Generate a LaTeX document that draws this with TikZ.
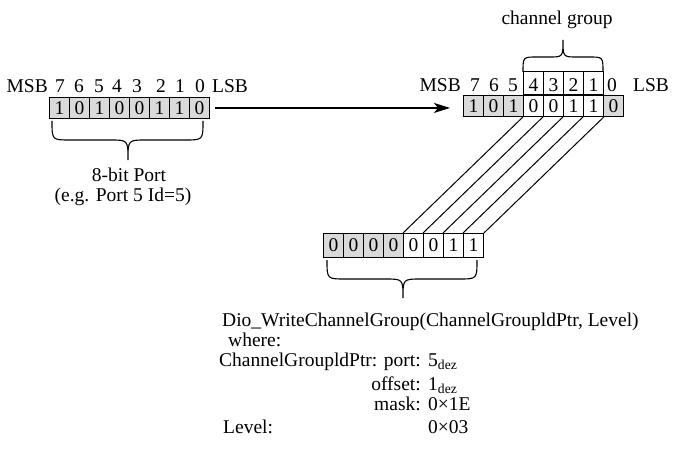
\documentclass[tikz,border=0pt]{standalone}
\usepackage{fontspec}
\setmainfont{Liberation Serif}
\usetikzlibrary{arrows.meta}
\definecolor{cellgray}{RGB}{218,218,218}
% brace: x1, x2, xm, y0, h1, h2, r
\newcommand{\mybrace}[7]{%
  \draw[bracestyle] ({#1},{#4}) .. controls ({#1},{#4+(#5)}) .. ({#1+#7},{#4+(#5)})
    -- ({#3-#7},{#4+(#5)}) .. controls ({#3},{#4+(#5)}) .. ({#3},{#4+(#5)+(#6)})
    .. controls ({#3},{#4+(#5)}) .. ({#3+#7},{#4+(#5)})
    -- ({#2-#7},{#4+(#5)}) .. controls ({#2},{#4+(#5)}) .. ({#2},{#4});}
\begin{document}
\begin{tikzpicture}[x=1pt,y=-1pt,
  every node/.style={font=\fontsize{19.5pt}{23pt}\selectfont, inner sep=0pt},
  cell/.style={draw, line width=0.9pt, minimum width=20pt, minimum height=21pt, anchor=north west},
  gcell/.style={cell, fill=cellgray},
  wcell/.style={cell, fill=white},
  bracestyle/.style={line width=1.1pt},
  wire/.style={line width=1pt},
  arrowline/.style={line width=1.3pt, -{Stealth[length=16pt,width=10pt,inset=4pt]}}]
\useasboundingbox (0,0) rectangle (674,449);

% left register
\foreach \v [count=\i from 0] in {1,0,1,0,0,1,1,0}
  \node[gcell] (L\i) at ({49+20*\i},97) {\v};
\node[anchor=base east] (lmsb) at (48,93) {MSB};
\foreach \d/\x [count=\i from 0] in {7/60,6/79,5/99,4/117,3/137,2/161,1/180,0/200}
  \node[anchor=base] (lb\i) at (\x,93) {\d};
\node[anchor=base west] (llsb) at (212,93) {LSB};
\mybrace{52}{203}{128}{121}{19}{20}{18}
\node[anchor=base] (port) at (129,182) {8-bit Port};
\node[anchor=base] (eg) at (123,201) {(e.g. Port 5 Id=5)};

% right register
\foreach \v/\s [count=\i from 0] in {1/gcell,0/gcell,1/gcell,0/wcell,0/wcell,1/wcell,1/wcell,0/gcell}
  \node[\s] (R\i) at ({463+20*\i},95) {\v};
\foreach \d [count=\i from 3] in {4,3,2,1}
  \node[cell, anchor=south west, minimum height=23pt, text height=17pt, text depth=0pt] (T\i) at ({463+20*\i},95) {\d};
\node[anchor=base east] (rmsb) at (461,92) {MSB};
\foreach \d/\x [count=\i from 0] in {7/475,6/494,5/513}
  \node[anchor=base] (rb\i) at (\x,92) {\d};
\node[anchor=base] (rb7) at (612,92) {0};
\node[anchor=base west] (rlsb) at (633,92) {LSB};
\mybrace{523}{603}{563}{72}{-15}{-17}{14}
\node[anchor=base] (cg) at (557,25) {channel group};

% arrow
\draw[arrowline] ([xshift=5pt]L7.east) -- ([xshift=-13pt]R0.west |- L7.east);

% bottom register
\foreach \v/\s [count=\i from 0] in {0/gcell,0/gcell,0/gcell,0/gcell,0/wcell,0/wcell,1/wcell,1/wcell}
  \node[\s, minimum height=24pt] (B\i) at ({323+20*\i},233) {\v};
\foreach \i/\j in {4/3,5/4,6/5,7/6}
  \draw[wire] (B\i.north west) -- (R\j.south west);
\draw[wire] (B7.north east) -- (R6.south east);
\mybrace{327}{477}{403}{260}{19}{19}{18}

% description
\node[anchor=base west] (call) at (222,326) {Dio\_WriteChannelGroup(ChannelGroupldPtr, Level)};
\node[anchor=base west] (where) at (228,346) {where:};
\node[anchor=base west] (cgp) at (219,366) {ChannelGroupldPtr:};
\node[anchor=base east] (kport) at (421,366) {port:};
\node[anchor=base east] (koff) at (421,390) {offset:};
\node[anchor=base east] (kmask) at (421,410) {mask:};
\node[anchor=base west] (klevel) at (223,433) {Level:};
\node[anchor=base west] (vport) at (428,366) {5\textsubscript{dez}};
\node[anchor=base west] (voff) at (428,390) {1\textsubscript{dez}};
\node[anchor=base west] (vmask) at (428,410) {0×1E};
\node[anchor=base west] (vlevel) at (428,433) {0×03};
\end{tikzpicture}
\end{document}
